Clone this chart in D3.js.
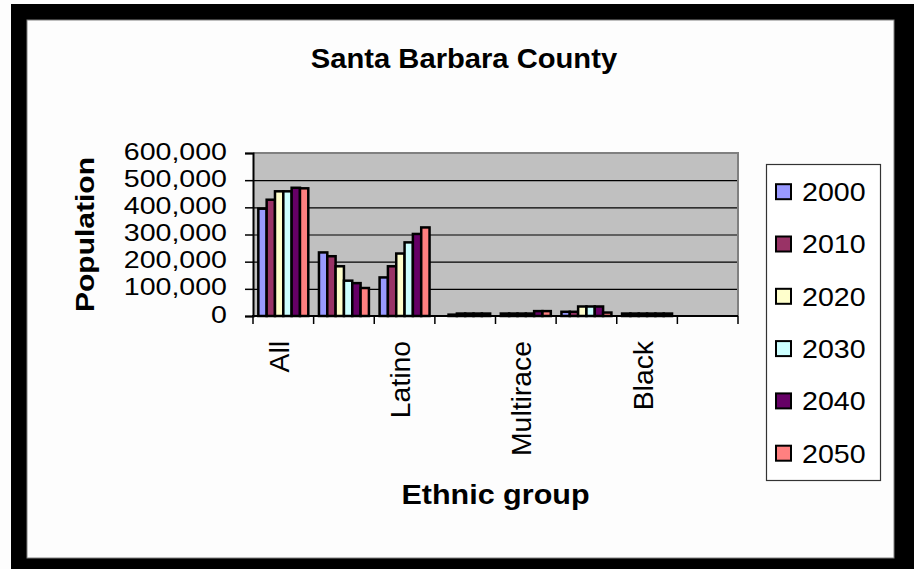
<!DOCTYPE html>
<html>
<head>
<meta charset="utf-8">
<script src="https://cdn.jsdelivr.net/npm/d3@7"></script>
<style>
  body { margin: 0; background: #fdfdfd; }
  text { font-family: Arial, "Liberation Sans", sans-serif; fill: #000; }
</style>
</head>
<body>
<div id="chart-area"></div>
<script>
// categories (only every other one gets a label in the original)
var groups = ["All", "White", "Latino", "Native American", "Multirace", "Asian", "Black", "Other"];
var years = ["2000", "2010", "2020", "2030", "2040", "2050"];
var yTicks = [0, 100000, 200000, 300000, 400000, 500000, 600000];

// population per group, one array per projection year
var pop2000 = [395000, 234000, 142000, 0,    9000,  15500, 9000, 0];
var pop2010 = [428000, 220000, 183000, 5000, 9000,  15500, 9000, 0];
var pop2020 = [459000, 183000, 230000, 9000, 9000,  35000, 9000, 0];
var pop2030 = [459000, 130000, 271000, 9000, 9000,  35000, 9000, 0];
var pop2040 = [472000, 121000, 302000, 9000, 18000, 35000, 9000, 0];
var pop2050 = [470000, 103000, 326000, 9000, 18000, 12700, 9000, 0];
var series = [pop2000, pop2010, pop2020, pop2030, pop2040, pop2050];

var colors = ["#9999ff", "#993366", "#ffffcc", "#ccffff", "#660066", "#ff8080"];

var W = 914, H = 569;
var plot = { left: 253, right: 738, top: 153, bottom: 316 };

// widen text a bit, the original glyphs are rendered wider than Arial
function stretch(sel, k) {
	sel.each(function() {
		var len = this.getComputedTextLength();
		if (len > 0) {
			d3.select(this).attr("textLength", len * k).attr("lengthAdjust", "spacingAndGlyphs");
		}
	});
}

var svg = d3.select("#chart-area").append("svg")
	.attr("width", W)
	.attr("height", H);

// black frame around the chart
svg.append("rect")
	.attr("x", 11).attr("y", 4)
	.attr("width", W - 11).attr("height", H - 4)
	.attr("fill", "#000");
svg.append("rect")
	.attr("x", 27).attr("y", 20)
	.attr("width", 867).attr("height", 538)
	.attr("fill", "#fdfdfd")
	.attr("stroke", "#808080")
	.attr("stroke-width", 1);

var x0 = d3.scaleBand()
	.domain(groups)
	.range([plot.left, plot.right])
	.padding(0);

var x1 = d3.scaleBand()
	.domain(years)
	.range([0, x0.bandwidth()])
	.paddingInner(0)
	.paddingOuter(0.64);

var y = d3.scaleLinear()
	.domain([0, 600000])
	.range([plot.bottom, plot.top]);

// plot background
svg.append("rect")
	.attr("x", plot.left).attr("y", plot.top)
	.attr("width", plot.right - plot.left)
	.attr("height", plot.bottom - plot.top)
	.attr("fill", "#c0c0c0");

// gridlines
var grid = svg.append("g")
	.attr("transform", "translate(" + plot.left + ",0)")
	.call(d3.axisLeft(y).tickValues(yTicks).tickSize(-(plot.right - plot.left)).tickFormat(""));
grid.select(".domain").remove();
grid.selectAll("line").attr("stroke", "#000").attr("stroke-width", 1.2);

// plot border top / right
svg.append("path")
	.attr("d", "M" + plot.left + "," + plot.top + "H" + plot.right + "V" + plot.bottom)
	.attr("fill", "none")
	.attr("stroke", "#808080")
	.attr("stroke-width", 2);

// bars
var rows = [];
groups.forEach(function(g, i) {
	years.forEach(function(yr, j) {
		rows.push({ group: g, year: yr, value: series[j][i], color: colors[j] });
	});
});

svg.append("g").selectAll("rect")
	.data(rows.filter(function(d) { return d.value > 0; }))
	.enter().append("rect")
		.attr("x", function(d) { return x0(d.group) + x1(d.year); })
		.attr("y", function(d) { return y(d.value); })
		.attr("width", x1.bandwidth())
		.attr("height", function(d) { return y(0) - y(d.value); })
		.attr("fill", function(d) { return d.color; })
		.attr("stroke", "#000")
		.attr("stroke-width", 2.5);

// y axis
var yAxis = svg.append("g")
	.attr("transform", "translate(" + plot.left + ",0)")
	.call(d3.axisLeft(y).tickValues(yTicks).tickSize(8).tickPadding(18).tickFormat(d3.format(",")));
yAxis.select(".domain").attr("stroke", "#000").attr("stroke-width", 2);
yAxis.selectAll(".tick line").attr("stroke", "#000").attr("stroke-width", 1.5);
yAxis.selectAll(".tick text")
	.attr("font-size", "24px")
	.attr("font-family", "Arial, 'Liberation Sans', sans-serif")
	.attr("fill", "#000")
	.attr("dy", "0.25em")
	.call(stretch, 1.19);

// x axis: ticks between categories, labels on every other category
var xAxis = svg.append("g")
	.attr("transform", "translate(0," + plot.bottom + ")")
	.call(d3.axisBottom(x0).tickSize(0).tickFormat(function(d, i) { return i % 2 === 0 ? d : ""; }));
xAxis.select(".domain").remove();
xAxis.append("line")
	.attr("x1", plot.left - 1).attr("x2", plot.right)
	.attr("stroke", "#000").attr("stroke-width", 2);
xAxis.selectAll(".bound")
	.data(groups.concat(["end"]))
	.enter().append("line")
		.attr("class", "bound")
		.attr("x1", function(d, i) { return plot.left + i * x0.step(); })
		.attr("x2", function(d, i) { return plot.left + i * x0.step(); })
		.attr("y1", 0).attr("y2", 8)
		.attr("stroke", "#000").attr("stroke-width", 1.5);
xAxis.selectAll(".tick text")
	.attr("font-size", "27px")
	.attr("font-family", "Arial, 'Liberation Sans', sans-serif")
	.attr("fill", "#000")
	.attr("text-anchor", "end")
	.attr("transform", "rotate(-90)")
	.attr("x", -25)
	.attr("y", -4)
	.attr("dy", "0.35em")
	.call(stretch, 1.05);

// title
svg.append("text")
	.attr("x", 464)
	.attr("y", 68)
	.attr("text-anchor", "middle")
	.attr("font-size", "27px")
	.attr("font-weight", "bold")
	.text("Santa Barbara County")
	.call(stretch, 1.08);

// axis labels
svg.append("text")
	.attr("x", (plot.left + plot.right) / 2)
	.attr("y", 504)
	.attr("text-anchor", "middle")
	.attr("font-size", "27px")
	.attr("font-weight", "bold")
	.text("Ethnic group")
	.call(stretch, 1.13);

svg.append("text")
	.attr("transform", "translate(94," + ((plot.top + plot.bottom) / 2) + ") rotate(-90)")
	.attr("text-anchor", "middle")
	.attr("font-size", "25px")
	.attr("font-weight", "bold")
	.text("Population")
	.call(stretch, 1.2);

// legend
var legend = svg.append("g");
legend.append("rect")
	.attr("x", 766.5).attr("y", 164.5)
	.attr("width", 114).attr("height", 316)
	.attr("fill", "#fff")
	.attr("stroke", "#333")
	.attr("stroke-width", 1.2);

var items = legend.selectAll(".item")
	.data(years)
	.enter().append("g")
		.attr("class", "item")
		.attr("transform", function(d, i) { return "translate(0," + (191.7 + i * 52.3) + ")"; });

items.append("rect")
	.attr("x", 776).attr("y", -7.5)
	.attr("width", 15).attr("height", 15)
	.attr("fill", function(d, i) { return colors[i]; })
	.attr("stroke", "#000")
	.attr("stroke-width", 2);

items.append("text")
	.attr("x", 802)
	.attr("y", 0)
	.attr("dy", "0.36em")
	.attr("font-size", "26px")
	.text(function(d) { return d; })
	.call(stretch, 1.1);
</script>
</body>
</html>
